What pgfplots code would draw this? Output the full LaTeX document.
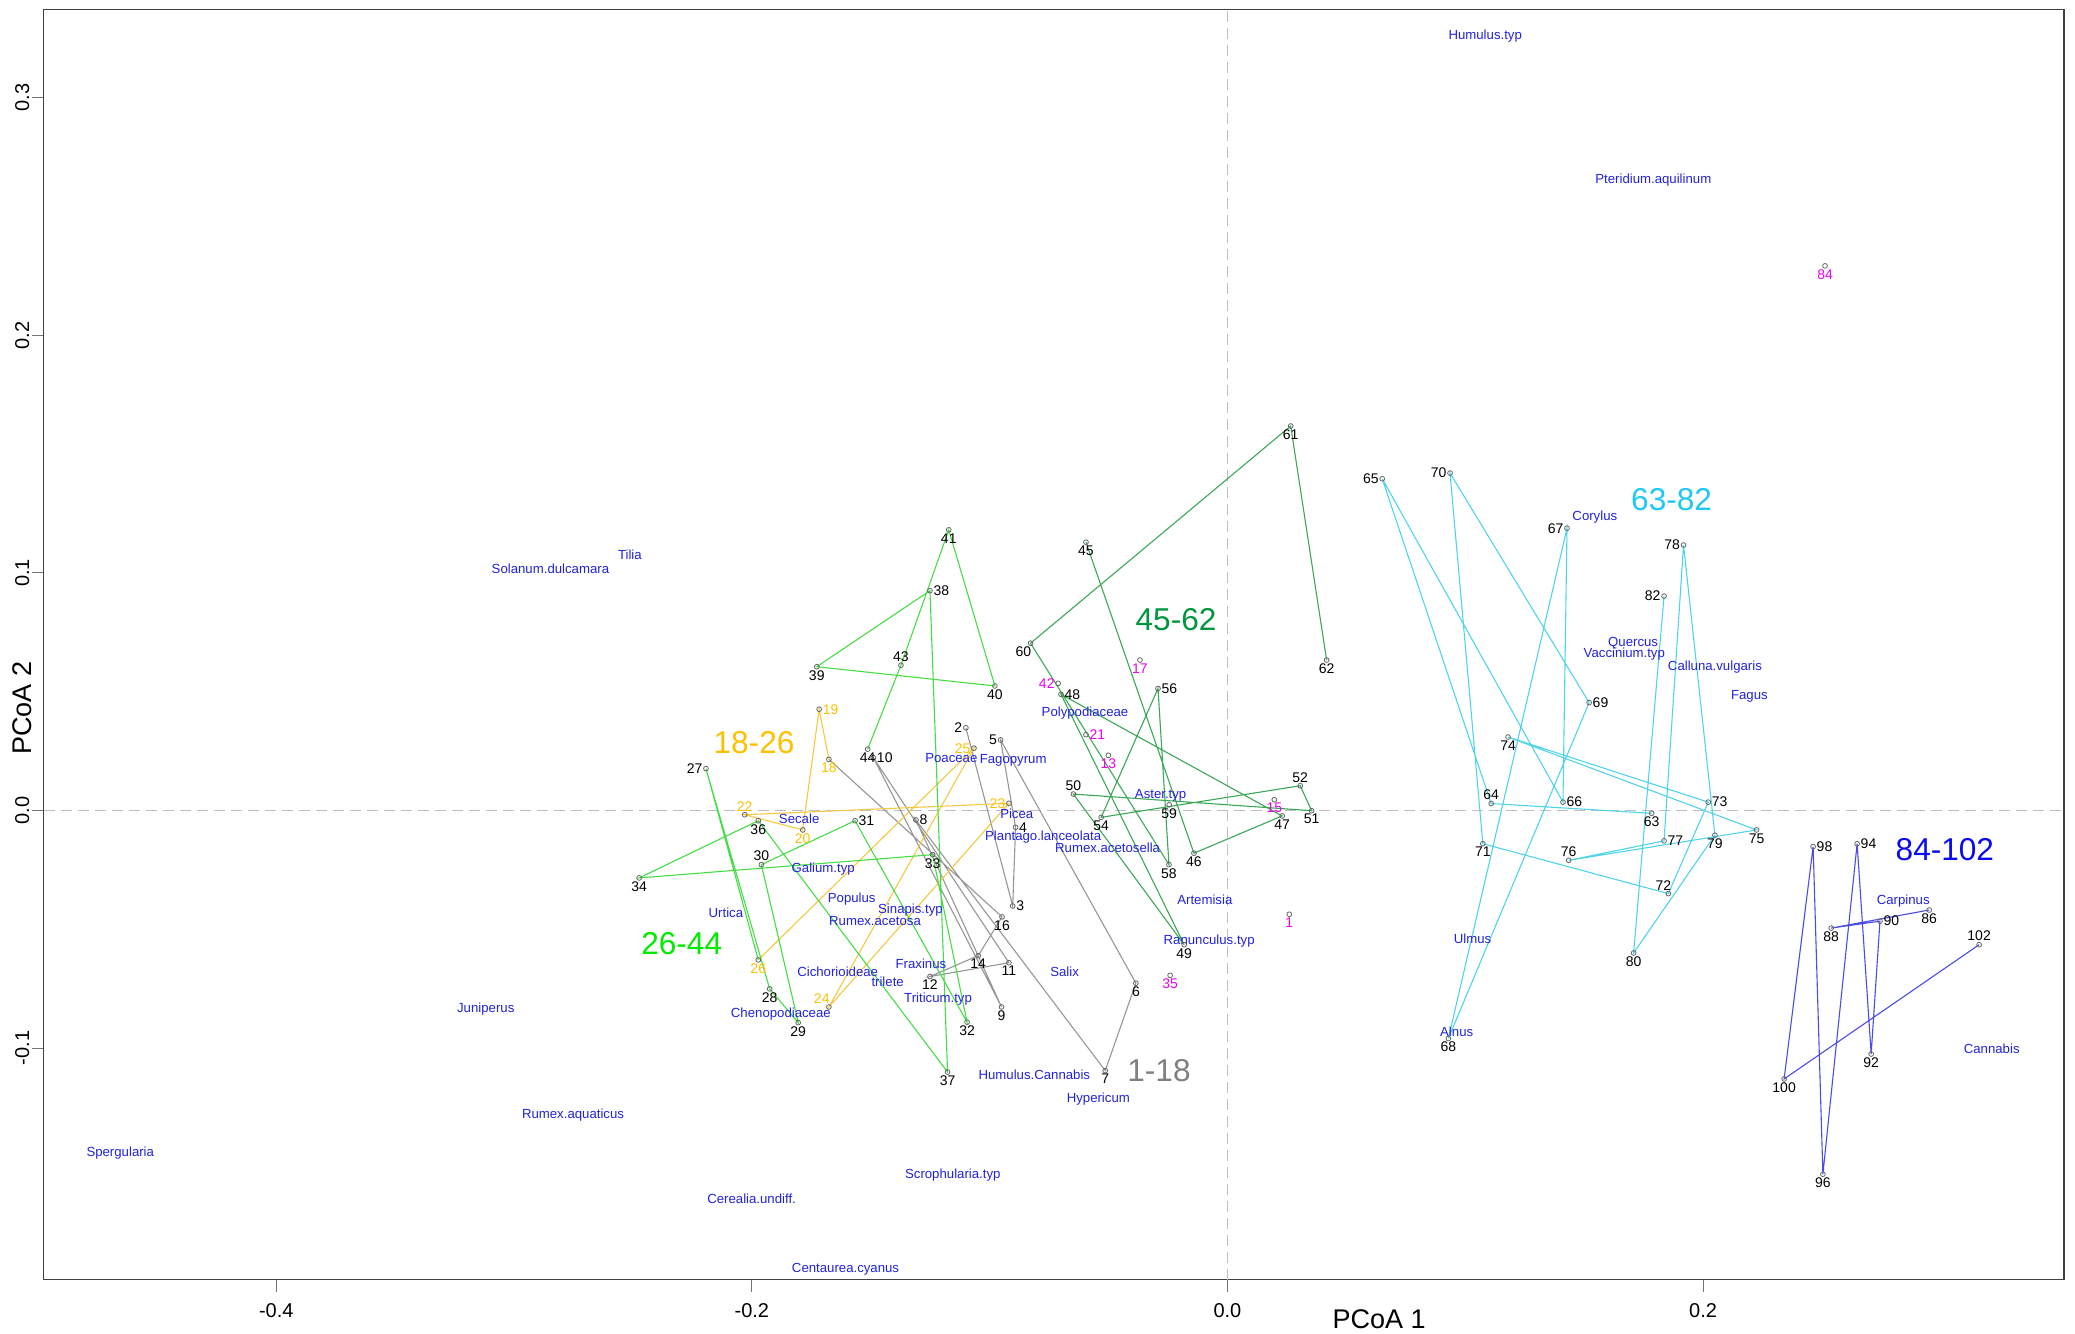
\documentclass[border=0pt]{standalone}
\usepackage{fontspec}
\setmainfont{Liberation Sans}
\usepackage{pgfplots}
\usepackage{pgfplotstable}
\pgfplotsset{compat=1.18}

\definecolor{cgray}{RGB}{150,150,150}
\definecolor{cgraytxt}{RGB}{128,128,128}
\definecolor{cyel}{RGB}{245,200,66}
\definecolor{cyeltxt}{RGB}{255,192,0}
\definecolor{cgrn}{RGB}{70,220,70}
\definecolor{cgrntxt}{RGB}{0,235,0}
\definecolor{cdgrn}{RGB}{58,168,86}
\definecolor{cdgrntxt}{RGB}{0,150,63}
\definecolor{ccyan}{RGB}{80,212,234}
\definecolor{ccyantxt}{RGB}{30,200,245}
\definecolor{cblue}{RGB}{75,75,230}
\definecolor{cbluetxt}{RGB}{10,10,240}
\definecolor{cmag}{RGB}{240,0,240}
\definecolor{cspec}{RGB}{34,34,221}

\pgfplotstableread{
x y lab anc
-0.1100 0.0348 2 0
-0.0903 -0.0402 3 180
-0.0891 -0.0071 4 180
-0.0954 0.0297 5 0
-0.0385 -0.0727 6 90
-0.0514 -0.1095 7 90
-0.1310 -0.0040 8 180
-0.0950 -0.0827 9 90
-0.1489 0.0222 10 180
-0.0919 -0.0641 11 90
-0.1251 -0.0699 12 90
-0.1048 -0.0611 14 90
-0.0948 -0.0448 16 90
-0.2193 0.0176 27 0
-0.1925 -0.0751 28 90
-0.1805 -0.0893 29 90
-0.1960 -0.0228 30 270
-0.1566 -0.0043 31 180
-0.1095 -0.0891 32 90
-0.1240 -0.0186 33 90
-0.2474 -0.0284 34 90
-0.1973 -0.0043 36 90
-0.1177 -0.1101 37 90
-0.1251 0.0925 38 180
-0.1727 0.0605 39 90
-0.0978 0.0524 40 90
-0.1172 0.1181 41 90
-0.1373 0.0611 43 270
-0.1513 0.0258 44 90
-0.0595 0.1129 45 90
-0.0141 -0.0180 46 90
0.0230 -0.0023 47 90
-0.0700 0.0489 48 180
-0.0182 -0.0565 49 90
-0.0648 0.0069 50 270
0.0354 -0.0001 51 90
0.0306 0.0104 52 270
-0.0531 -0.0029 54 90
-0.0292 0.0513 56 180
-0.0246 -0.0228 58 90
-0.0245 0.0024 59 90
-0.0828 0.0704 60 50
0.0266 0.1618 61 90
0.0417 0.0633 62 90
0.1784 -0.0012 63 90
0.1109 0.0029 64 270
0.0651 0.1396 65 0
0.1411 0.0035 66 180
0.1428 0.1188 67 0
0.0929 -0.0960 68 90
0.1521 0.0454 69 180
0.0936 0.1420 70 0
0.1074 -0.0140 71 90
0.1854 -0.0350 72 300
0.2022 0.0035 73 180
0.1180 0.0309 74 90
0.2225 -0.0082 75 90
0.1435 -0.0210 76 270
0.1836 -0.0128 77 180
0.1918 0.1117 78 0
0.2050 -0.0104 79 90
0.1708 -0.0600 80 90
0.1836 0.0902 82 0
0.2951 -0.0419 86 90
0.2539 -0.0495 88 90
0.2744 -0.0466 90 180
0.2707 -0.1025 92 90
0.2648 -0.0140 94 180
0.2504 -0.1531 96 90
0.2463 -0.0152 98 180
0.2341 -0.1130 100 90
0.3161 -0.0565 102 270
}\blackpts

\pgfplotstableread{
x y lab anc
-0.1676 0.0215 18 90
-0.1717 0.0426 19 180
-0.1786 -0.0082 20 90
-0.2030 -0.0018 22 270
-0.0919 0.0030 23 0
-0.1676 -0.0827 24 310
-0.1066 0.0262 25 0
-0.1973 -0.0629 26 90
}\yelpts

\pgfplotstableread{
x y lab anc
0.0260 -0.0437 1 90
-0.0501 0.0232 13 90
0.0197 0.0045 15 90
-0.0368 0.0633 17 90
-0.0595 0.0319 21 180
-0.0241 -0.0694 35 90
-0.0712 0.0535 42 0
0.2513 0.2292 84 90
}\magpts

\pgfplotstableread{
x y name
0.1084 0.3260 Humulus.typ
0.1791 0.2654 Pteridium.aquilinum
0.1545 0.1235 Corylus
0.1706 0.0706 Quercus
0.1669 0.0659 Vaccinium.typ
0.2050 0.0604 Calluna.vulgaris
0.2195 0.0482 Fagus
0.1031 -0.0541 Ulmus
0.0964 -0.0931 Alnus
0.2842 -0.0380 Carpinus
0.3214 -0.1005 Cannabis
-0.2513 0.1077 Tilia
-0.2847 0.1016 Solanum.dulcamara
-0.3119 -0.0838 Juniperus
-0.2752 -0.1284 Rumex.aquaticus
-0.4656 -0.1440 Spergularia
-0.2001 -0.1635 Cerealia.undiff.
-0.1155 -0.1534 Scrophularia.typ
-0.1606 -0.1930 Centaurea.cyanus
-0.0812 -0.1111 Humulus.Cannabis
-0.0543 -0.1215 Hypericum
-0.0685 -0.0680 Salix
-0.0095 -0.0377 Artemisia
-0.0077 -0.0548 Ranunculus.typ
-0.0504 -0.0159 Rumex.acetosella
-0.0775 -0.0110 Plantago.lanceolata
-0.0886 -0.0012 Picea
-0.0281 0.0064 Aster.typ
-0.0599 0.0409 Polypodiaceae
-0.0901 0.0210 Fagopyrum
-0.1161 0.0221 Poaceae
-0.1801 -0.0036 Secale
-0.1700 -0.0245 Galium.typ
-0.1580 -0.0372 Populus
-0.2109 -0.0430 Urtica
-0.1482 -0.0465 Rumex.acetosa
-0.1333 -0.0421 Sinapis.typ
-0.1639 -0.0681 Cichorioideae
-0.1429 -0.0721 trilete
-0.1878 -0.0856 Chenopodiaceae
-0.1289 -0.0644 Fraxinus
-0.1217 -0.0793 Triticum.typ
}\species

\begin{document}
\begin{tikzpicture}
\begin{axis}[
  at={(0,0)}, anchor=south west,
  scale only axis, width=1010.15pt, height=635.2pt,
  xmin=-0.4978, xmax=0.3518, ymin=-0.1975, ymax=0.3372,
  axis line style={draw=black!75, line width=0.6pt},
  tick pos=left, tick align=outside, major tick length=6pt,
  tick style={draw=black!55, line width=0.5pt},
  xtick={-0.4,-0.2,0,0.2}, xticklabels={-0.4,-0.2,0.0,0.2},
  ytick={-0.1,0,0.1,0.2,0.3}, yticklabels={-0.1,0.0,0.1,0.2,0.3},
  ticklabel style={font=\fontsize{10}{12}\selectfont, inner sep=0pt},
  xticklabel style={anchor=north},
  yticklabel style={rotate=90, anchor=south},
  xticklabel shift=5.5pt, yticklabel shift=1pt,
  xlabel={PCoA 1},
  xlabel style={at={(axis description cs:0.661,-0.0309)}, anchor=center, inner sep=0pt, font=\fontsize{13.5}{14}\selectfont},
  ylabel={PCoA 2},
  ylabel style={at={(axis description cs:-0.0105,0.4498)}, anchor=center, inner sep=0pt, font=\fontsize{13.5}{14}\selectfont},
  every node near coord/.append style={inner sep=1.6pt, font=\fontsize{7}{8}\selectfont},
]
% reference lines
\addplot[draw=black!25, line width=0.6pt, dash pattern=on 5.5pt off 3pt, forget plot] coordinates {(0,-0.1975) (0,0.3372)};
\addplot[draw=black!25, line width=0.6pt, dash pattern=on 5.5pt off 3pt, forget plot] coordinates {(-0.4978,0) (0.3518,0)};

% group 1-18 (gray)
\addplot[cgray, line width=0.55pt] coordinates {
(-0.1100,0.0348) (-0.0903,-0.0402) (-0.0891,-0.0071) (-0.0954,0.0297) (-0.0385,-0.0727) (-0.0514,-0.1095) (-0.1310,-0.0040) (-0.0950,-0.0827) (-0.1489,0.0222) (-0.0919,-0.0641) (-0.1251,-0.0699) (-0.1048,-0.0611) (-0.0948,-0.0448) (-0.1676,0.0215)};
% group 18-26 (yellow)
\addplot[cyel, line width=0.55pt] coordinates {
(-0.1676,0.0215) (-0.1717,0.0426) (-0.1786,-0.0082) (-0.2030,-0.0018) (-0.0919,0.0030) (-0.1676,-0.0827) (-0.1066,0.0262) (-0.1973,-0.0629)};
% group 26-44 (green)
\addplot[cgrn, line width=0.55pt] coordinates {
(-0.1973,-0.0629) (-0.2193,0.0176) (-0.1925,-0.0751) (-0.1805,-0.0893) (-0.1960,-0.0228) (-0.1566,-0.0043) (-0.1095,-0.0891) (-0.1240,-0.0186) (-0.2474,-0.0284) (-0.1973,-0.0043) (-0.1177,-0.1101) (-0.1251,0.0925) (-0.1727,0.0605) (-0.0978,0.0524) (-0.1172,0.1181) (-0.1373,0.0611) (-0.1513,0.0258)};
% group 45-62 (dark green)
\addplot[cdgrn, line width=0.55pt] coordinates {
(-0.0595,0.1129) (-0.0141,-0.0180) (0.0230,-0.0023) (-0.0700,0.0489) (-0.0182,-0.0565) (-0.0648,0.0069) (0.0354,-0.0001) (0.0306,0.0104) (-0.0531,-0.0029) (-0.0292,0.0513) (-0.0246,-0.0228) (-0.0828,0.0704) (0.0266,0.1618) (0.0417,0.0633)};
% group 63-82 (cyan)
\addplot[ccyan, line width=0.55pt] coordinates {
(0.1784,-0.0012) (0.1109,0.0029) (0.0651,0.1396) (0.1411,0.0035) (0.1428,0.1188) (0.0929,-0.0960) (0.1521,0.0454) (0.0936,0.1420) (0.1074,-0.0140) (0.1854,-0.0350) (0.2022,0.0035) (0.1180,0.0309) (0.2225,-0.0082) (0.1435,-0.0210) (0.1836,-0.0128) (0.1918,0.1117) (0.2050,-0.0104) (0.1708,-0.0600) (0.1836,0.0902)};
% group 84-102 (blue)
\addplot[cblue, line width=0.55pt] coordinates {
(0.2951,-0.0419) (0.2539,-0.0495) (0.2744,-0.0466) (0.2707,-0.1025) (0.2648,-0.0140) (0.2504,-0.1531) (0.2463,-0.0152) (0.2341,-0.1130) (0.3161,-0.0565)};

% species names
\addplot[only marks, mark=none, nodes near coords, point meta=explicit symbolic,
  every node near coord/.append style={anchor=center, inner sep=0pt, text=cspec, font=\fontsize{6.6}{7}\selectfont}]
  table[x=x, y=y, meta=name] {\species};

% sample points
\addplot[only marks, mark=o, mark size=1.2pt, mark options={draw=black!60, line width=0.4pt},
  nodes near coords, point meta=explicit symbolic,
  visualization depends on={\thisrow{anc}\as\myanc},
  every node near coord/.append style={anchor=\myanc, text=black}]
  table[x=x, y=y, meta=lab] {\blackpts};
\addplot[only marks, mark=o, mark size=1.2pt, mark options={draw=black!60, line width=0.4pt},
  nodes near coords, point meta=explicit symbolic,
  visualization depends on={\thisrow{anc}\as\myanc},
  every node near coord/.append style={anchor=\myanc, text=cyeltxt}]
  table[x=x, y=y, meta=lab] {\yelpts};
\addplot[only marks, mark=o, mark size=1.2pt, mark options={draw=black!60, line width=0.4pt},
  nodes near coords, point meta=explicit symbolic,
  visualization depends on={\thisrow{anc}\as\myanc},
  every node near coord/.append style={anchor=\myanc, text=cmag}]
  table[x=x, y=y, meta=lab] {\magpts};

% group labels
\node[text=cgraytxt, font=\fontsize{15.8}{16}\selectfont] at (axis cs:-0.0288,-0.1095) {1-18};
\node[text=cyeltxt, font=\fontsize{15.8}{16}\selectfont] at (axis cs:-0.1991,0.0287) {18-26};
\node[text=cgrntxt, font=\fontsize{15.8}{16}\selectfont] at (axis cs:-0.2295,-0.0559) {26-44};
\node[text=cdgrntxt, font=\fontsize{15.8}{16}\selectfont] at (axis cs:-0.0216,0.0802) {45-62};
\node[text=ccyantxt, font=\fontsize{15.8}{16}\selectfont] at (axis cs:0.1868,0.1307) {63-82};
\node[text=cbluetxt, font=\fontsize{15.8}{16}\selectfont] at (axis cs:0.3017,-0.0166) {84-102};
\end{axis}
\pgfresetboundingbox
\path (-21.85pt,-26.65pt) rectangle (1015.65pt,639.85pt);
\end{tikzpicture}
\end{document}
